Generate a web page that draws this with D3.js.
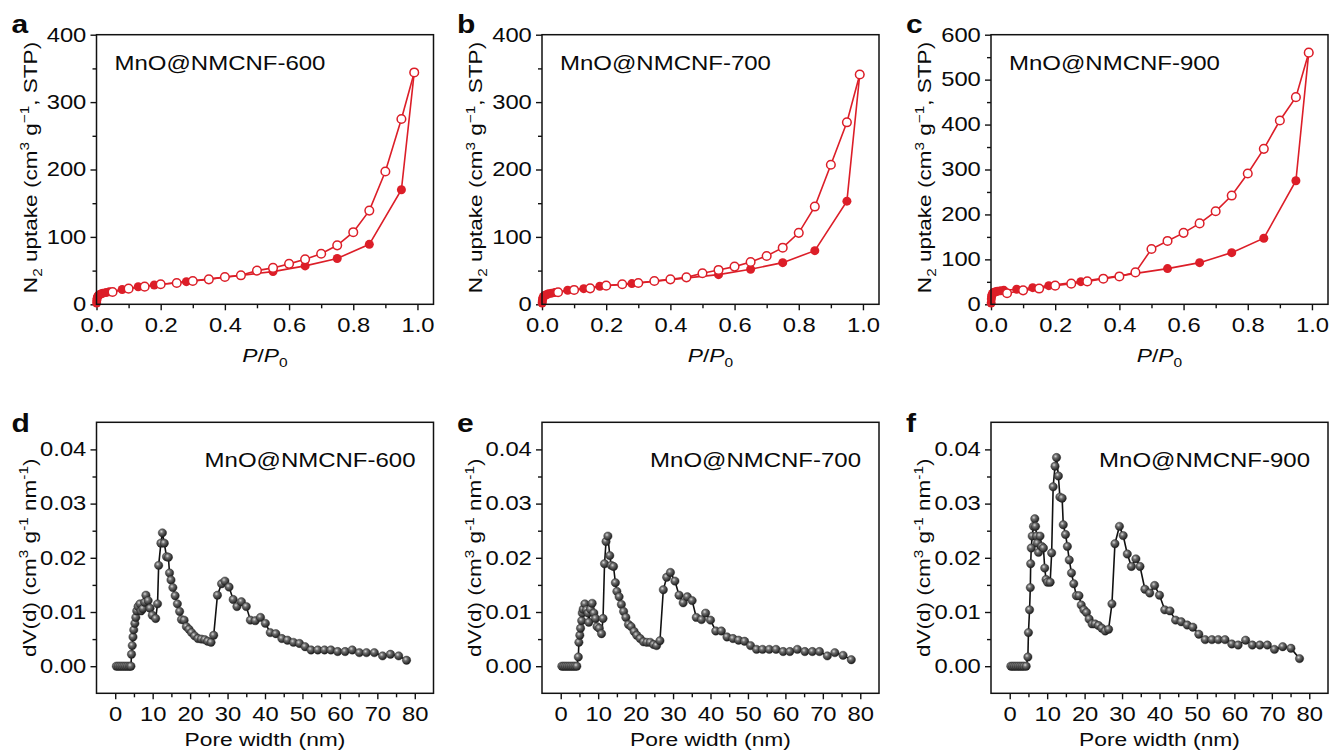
<!DOCTYPE html>
<html>
<head>
<meta charset="utf-8">
<script src="https://cdn.jsdelivr.net/npm/d3@7/dist/d3.min.js"></script>
<style>
  body { margin: 0; background: #fff; }
  text { font-family: "Liberation Sans", Arial, sans-serif; fill: #0a0a0a; }
</style>
</head>
<body>
<svg id="fig" width="1333" height="756"></svg>
<script>
// ---- data ----
const sampleNames = ["MnO@NMCNF-600", "MnO@NMCNF-700", "MnO@NMCNF-900"];
const panelLetters = ["a", "b", "c", "d", "e", "f"];

// N2 isotherms: adsorption (filled) and desorption (open)
const adsP = [0.0005, 0.001, 0.002, 0.003, 0.005, 0.007, 0.01, 0.015, 0.02, 0.03, 0.04,
  0.08, 0.13, 0.18, 0.28, 0.55, 0.65, 0.75, 0.85, 0.95, 0.99];
const adsV600 = [2, 6, 9, 11, 12.5, 13.5, 14.5, 15.5, 16.5, 17.5, 18.5,
  22, 26, 28.7, 33.6, 48.5, 57, 68, 89, 170, 344];
const adsV700 = [2, 5, 8, 10, 11.5, 12.5, 13.5, 14.5, 15.5, 16.5, 17.5,
  20.8, 23.2, 26.7, 30.7, 44, 52, 61.8, 79.6, 153, 341];
const adsV900 = [3, 12, 18, 21, 24, 25.5, 27, 28, 29, 30, 31,
  33.4, 37, 41.5, 50.4, 79.4, 92.7, 115, 147, 275, 560];

const desP = [0.99, 0.95, 0.90, 0.85, 0.80, 0.75, 0.70, 0.65, 0.60, 0.55,
  0.50, 0.45, 0.40, 0.35, 0.30, 0.25, 0.20, 0.15, 0.10, 0.05];
const desV600 = [344, 275, 197, 139, 107, 87.5, 75, 66.7, 60, 54,
  50, 43, 40.5, 37, 34.6, 31.6, 29.7, 26.2, 23.2, 18.3];
const desV700 = [341, 270, 207, 145, 106, 84, 71.7, 62.8, 55.9, 51,
  46, 40, 37, 34.6, 31.6, 29.7, 27.7, 23.7, 21.3, 17.8];
const desV900 = [560, 461, 409, 346, 291, 242, 207, 180, 159, 141,
  123, 71, 62, 57, 51, 46, 41.5, 35, 31, 24.5];

const isoYMax = [400, 400, 600];

// pore size distributions
const psdW600 = [0.3, 0.8, 1.3, 1.8, 2.3, 2.8, 3.3, 3.8, 4.2,
  4.35, 4.55, 4.75, 4.95, 5.25, 5.5, 5.75, 6.1, 6.6, 6.9, 7.4, 7.9, 8.2, 8.8, 9.3, 9.9, 10.8,
  11.3, 11.6, 12.2, 12.6, 13.1, 13.7, 14.2, 14.5, 14.9, 15.4, 16.0, 16.6, 17.2, 17.7, 18.4,
  19.0, 19.7, 20.4, 21.2, 22.1, 23.0, 23.9, 24.7, 25.6, 26.3, 27.3, 28.4, 29.3, 30.4, 31.5,
  32.5, 33.7, 35.0, 36.1, 37.4, 38.8, 40.1, 41.4, 42.9, 44.5, 46.0, 47.6, 49.2, 50.7, 52.3,
  54.1, 55.9, 57.6, 59.4, 61.4, 63.3, 65.2, 67.1, 69.2, 71.4, 73.5, 75.7, 77.8];
const psdD600 = [0, 0, 0, 0, 0, 0, 0, 0, 0,
  0.0022, 0.0038, 0.0054, 0.0067, 0.0079, 0.009, 0.0102, 0.011, 0.0115, 0.0102, 0.0106, 0.0118, 0.0131, 0.0121, 0.0107, 0.0094, 0.0088,
  0.0115, 0.0186, 0.0227, 0.0246, 0.0227, 0.0202, 0.0201, 0.0172, 0.0159, 0.0145, 0.013, 0.0115, 0.0101, 0.0086, 0.0085,
  0.0073, 0.0068, 0.0062, 0.0056, 0.0051, 0.005, 0.0049, 0.0046, 0.0044, 0.0057, 0.0131, 0.0152, 0.0157, 0.0146, 0.0123,
  0.011, 0.0119, 0.011, 0.0085, 0.0084, 0.009, 0.0079, 0.0062, 0.006, 0.0051, 0.0048, 0.0044, 0.0042, 0.0036, 0.003,
  0.003, 0.003, 0.003, 0.0027, 0.0027, 0.003, 0.0025, 0.0025, 0.0025, 0.0019, 0.0022, 0.0019, 0.0011];

const psdW700 = [0.3, 0.8, 1.3, 1.8, 2.3, 2.8, 3.3, 3.8, 4.3,
  4.7, 4.85, 5.1, 5.3, 5.6, 5.75, 6.0, 6.45, 6.9, 7.3, 7.5, 7.95, 8.4, 8.85, 9.3, 9.7, 10.3, 10.9,
  11.3, 11.7, 12.1, 12.6, 13.1, 13.5, 14.1, 14.6, 15.0, 15.6, 16.2, 16.8, 17.4, 18.1, 18.8,
  19.6, 20.3, 21.2, 22.1, 23.0, 23.9, 24.8, 25.6, 26.5, 27.4, 28.3, 29.3, 30.5, 31.6,
  32.7, 33.8, 35.1, 36.2, 37.6, 38.7, 40.0, 41.4, 42.9, 44.4, 46.0, 47.5, 49.1, 50.7, 52.3,
  53.9, 55.7, 57.5, 59.4, 61.2, 63.2, 65.2, 67.2, 69.1, 71.2, 73.2, 75.4, 77.6];
const psdD700 = [0, 0, 0, 0, 0, 0, 0, 0, 0,
  0.0017, 0.0044, 0.0057, 0.007, 0.0084, 0.0098, 0.0105, 0.0115, 0.0104, 0.0098, 0.0081, 0.0105, 0.0116, 0.0098, 0.0088, 0.0073, 0.007, 0.006,
  0.0088, 0.0189, 0.023, 0.024, 0.0204, 0.0186, 0.0184, 0.0154, 0.0138, 0.0128, 0.0114, 0.0101, 0.009, 0.0077, 0.0073,
  0.0064, 0.0057, 0.0051, 0.0045, 0.0044, 0.0044, 0.004, 0.0038, 0.0047, 0.0141, 0.0164, 0.0173, 0.0157, 0.0131,
  0.0117, 0.0128, 0.0121, 0.009, 0.0086, 0.0098, 0.0085, 0.0065, 0.0065, 0.0054, 0.0051, 0.0048, 0.0046, 0.0038, 0.0031,
  0.0031, 0.0031, 0.0031, 0.0027, 0.0027, 0.0031, 0.0027, 0.0027, 0.0027, 0.0019, 0.0025, 0.002, 0.0012];

const psdW900 = [0.3, 0.8, 1.3, 1.8, 2.3, 2.8, 3.3, 3.8, 4.4,
  4.85, 5.0, 5.3, 5.5, 5.6, 5.75, 6.0, 6.35, 6.7, 6.9, 7.2, 7.4, 7.7, 8.1, 8.55, 9.0, 9.35, 9.7, 10.1, 10.8,
  11.2, 11.6, 12.1, 12.5, 13.0, 13.4, 14.0, 14.3, 14.9, 15.4, 15.9, 16.5, 17.1, 17.8, 18.5,
  19.1, 19.8, 20.5, 21.2, 22.0, 22.8, 23.7, 24.6, 25.5, 26.4, 27.3, 28.1, 29.3, 30.3, 31.4,
  32.5, 33.7, 34.8, 36.1, 37.4, 38.7, 40.0, 41.4, 42.8, 44.3, 45.8, 47.4, 48.9, 50.5, 52.2,
  54.0, 55.7, 57.5, 59.3, 61.0, 63.0, 64.8, 66.8, 68.8, 70.7, 72.9, 75.1, 77.4];
const psdD900 = [0, 0, 0, 0, 0, 0, 0, 0, 0,
  0.0017, 0.0062, 0.0104, 0.0145, 0.0189, 0.0218, 0.024, 0.0258, 0.0272, 0.0258, 0.024, 0.0227, 0.021, 0.024, 0.0221, 0.0218, 0.0181, 0.016, 0.0155, 0.0155,
  0.0209, 0.0331, 0.0369, 0.0385, 0.0351, 0.0312, 0.031, 0.0261, 0.0243, 0.0221, 0.0196, 0.0172, 0.0152, 0.013, 0.013,
  0.0113, 0.0104, 0.0099, 0.0087, 0.0078, 0.0078, 0.0075, 0.007, 0.0065, 0.0068, 0.0115, 0.0226, 0.0258, 0.0241, 0.0207,
  0.0184, 0.0198, 0.0184, 0.0142, 0.0135, 0.0149, 0.0131, 0.0104, 0.0102, 0.0085, 0.0082, 0.0076, 0.0072, 0.0059, 0.0049,
  0.0049, 0.0049, 0.0049, 0.0041, 0.0039, 0.0048, 0.0039, 0.0039, 0.0039, 0.0031, 0.0036, 0.0033, 0.0014];

const adsV = [adsV600, adsV700, adsV900];
const desV = [desV600, desV700, desV900];
const psdW = [psdW600, psdW700, psdW900];
const psdD = [psdD600, psdD700, psdD900];

// ---- layout ----
const SX = 1.2;            // the figure's font is wider than Arial
const red = "#dc1e28";
const colLeft = [96.5, 542, 991];
const plotW = 337;
const rows = [{ top: 34.7, bottom: 304.3 }, { top: 422.3, bottom: 693.3 }];

const svg = d3.select("#fig");

const defs = svg.append("defs");
const grad = defs.append("radialGradient").attr("id", "ball")
  .attr("cx", "38%").attr("cy", "35%").attr("r", "65%");
grad.append("stop").attr("offset", "0%").attr("stop-color", "#d8d8d8");
grad.append("stop").attr("offset", "35%").attr("stop-color", "#6e6e6e");
grad.append("stop").attr("offset", "100%").attr("stop-color", "#1c1c1c");

// text written with the wide-font stretch
function richText(g, x, y, parts, size, anchor, rotate) {
  const t = g.append("text")
    .attr("transform", `translate(${x},${y})${rotate ? " rotate(-90)" : ""} scale(${SX},1)`)
    .attr("text-anchor", anchor)
    .style("font-size", size + "px");
  let off = 0;
  parts.forEach(p => {
    const kind = p[1] || "n";
    const target = kind === "sup" ? -0.38 * size : kind === "sub" ? 0.28 * size : 0;
    const ts = t.append("tspan").attr("dy", target - off).text(p[0]);
    if (kind !== "n") ts.style("font-size", (size * 0.68) + "px");
    if (p[2]) ts.style("font-style", "italic");
    off = target;
  });
  return t;
}

function styleAxis(g, size) {
  g.select(".domain").remove();
  g.selectAll(".tick line").attr("stroke", "#111").attr("stroke-width", 1.4);
  g.selectAll(".tick text")
    .attr("transform", `scale(${SX},1)`)
    .style("font-size", size + "px")
    .style("font-family", '"Liberation Sans", Arial, sans-serif')
    .attr("fill", "#0a0a0a");
}

function frame(g, left, top, right, bottom) {
  g.append("rect")
    .attr("x", left).attr("y", top)
    .attr("width", right - left).attr("height", bottom - top)
    .attr("fill", "none").attr("stroke", "#111").attr("stroke-width", 1.5);
}

function axes(g, x, y, xMajor, xMinor, yMajor, yMinor, xFmt, yFmt, left, bottom) {
  g.append("g").attr("transform", `translate(0,${bottom})`)
    .call(d3.axisBottom(x).tickValues(xMinor).tickSize(4).tickFormat(""))
    .call(a => styleAxis(a, 19.8));
  g.append("g").attr("transform", `translate(0,${bottom})`)
    .call(d3.axisBottom(x).tickValues(xMajor).tickSize(6).tickPadding(8).tickFormat(xFmt))
    .call(a => styleAxis(a, 19.8));
  g.append("g").attr("transform", `translate(${left},0)`)
    .call(d3.axisLeft(y).tickValues(yMinor).tickSize(4).tickFormat(""))
    .call(a => styleAxis(a, 19.8));
  g.append("g").attr("transform", `translate(${left},0)`)
    .call(d3.axisLeft(y).tickValues(yMajor).tickSize(6).tickPadding(2.5).tickFormat(yFmt))
    .call(a => styleAxis(a, 19.8));
}

// ---- isotherms (a-c) ----
function drawIsotherm(i) {
  const left = colLeft[i], right = left + plotW;
  const { top, bottom } = rows[0];
  const g = svg.append("g");
  const x = d3.scaleLinear().domain([0, 1.05]).range([left, right]);
  const y = d3.scaleLinear().domain([0, isoYMax[i]]).range([bottom, top]);

  const xMajor = d3.range(0, 1.01, 0.2);
  const xMinor = d3.range(0.1, 1.0, 0.2);
  const yMajor = d3.range(0, isoYMax[i] + 1, 100);
  const yMinor = d3.range(50, isoYMax[i], 100);
  axes(g, x, y, xMajor, xMinor, yMajor, yMinor, d3.format(".1f"), d3.format("d"), left, bottom);

  const line = d3.line().x(d => x(d[0])).y(d => y(d[1]));
  const ads = d3.zip(adsP, adsV[i]);
  const des = d3.zip(desP, desV[i]);

  g.append("path").datum(ads).attr("d", line)
    .attr("fill", "none").attr("stroke", red).attr("stroke-width", 1.6);
  g.selectAll(".ads").data(ads).join("circle").attr("class", "ads")
    .attr("cx", d => x(d[0])).attr("cy", d => y(d[1])).attr("r", 4.5)
    .attr("fill", red);

  g.append("path").datum(des).attr("d", line)
    .attr("fill", "none").attr("stroke", red).attr("stroke-width", 1.6);
  g.selectAll(".des").data(des).join("circle").attr("class", "des")
    .attr("cx", d => x(d[0])).attr("cy", d => y(d[1])).attr("r", 4.3)
    .attr("fill", "#fff").attr("stroke", red).attr("stroke-width", 1.5);

  frame(g, left, top, right, bottom);

  richText(g, left + 18, 70, [[sampleNames[i]]], 20, "start");
  richText(g, (left + right) / 2, 362, [["P", "n", true], ["/"], ["P", "n", true], ["0", "sub"]], 19, "middle");
  richText(g, left - 60, (top + bottom) / 2 - 2,
    [["N"], ["2", "sub"], [" uptake (cm"], ["3", "sup"], [" g"], ["\u22121", "sup"], [", STP)"]], 18.8, "middle", true);
  richText(g, left - 85, 33, [[panelLetters[i]]], 25, "start").style("font-weight", "bold");
}

// ---- pore size distributions (d-f) ----
function drawPsd(i) {
  const left = colLeft[i], right = left + plotW;
  const { top, bottom } = rows[1];
  const g = svg.append("g");
  const x = d3.scaleLinear().domain([-5, 85]).range([left, right]);
  const y = d3.scaleLinear().domain([-0.005, 0.045]).range([bottom, top]);

  const xMajor = d3.range(0, 81, 10);
  const xMinor = d3.range(5, 80, 10);
  const yMajor = [0, 0.01, 0.02, 0.03, 0.04];
  const yMinor = [0.005, 0.015, 0.025, 0.035];
  axes(g, x, y, xMajor, xMinor, yMajor, yMinor, d3.format("d"), d3.format(".2f"), left, bottom);

  const pts = d3.zip(psdW[i], psdD[i]);
  const line = d3.line().x(d => x(d[0])).y(d => y(d[1]));
  g.append("path").datum(pts).attr("d", line)
    .attr("fill", "none").attr("stroke", "#111").attr("stroke-width", 1.6);
  g.selectAll(".ball").data(pts).join("circle").attr("class", "ball")
    .attr("cx", d => x(d[0])).attr("cy", d => y(d[1])).attr("r", 4.2)
    .attr("fill", "url(#ball)").attr("stroke", "#222").attr("stroke-width", 0.4);

  frame(g, left, top, right, bottom);

  richText(g, right - 18, 467, [[sampleNames[i]]], 20, "end");
  richText(g, (left + right) / 2, 746, [["Pore width (nm)"]], 19, "middle");
  richText(g, left - 61, (top + bottom) / 2,
    [["dV(d) (cm"], ["3", "sup"], [" g"], ["-1", "sup"], [" nm"], ["-1", "sup"], [")"]], 18.8, "middle", true);
  richText(g, left - 85, 432, [[panelLetters[i + 3]]], 25, "start").style("font-weight", "bold");
}

[0, 1, 2].forEach(drawIsotherm);
[0, 1, 2].forEach(drawPsd);
</script>
</body>
</html>
